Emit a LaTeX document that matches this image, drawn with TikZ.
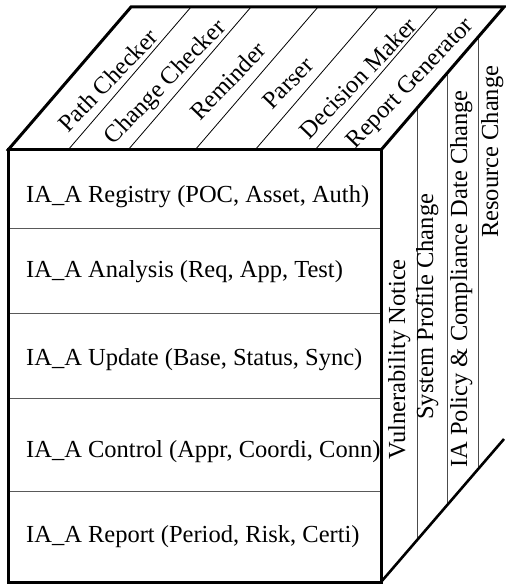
\documentclass[tikz,border=0pt]{standalone}
\usepackage{fontspec}
\setmainfont{Liberation Serif}
\begin{document}
\begin{tikzpicture}[x=1pt,y=-1pt,
  thickline/.style={line width=3pt, line join=miter, line cap=rect},
  divline/.style={line width=0.8pt, black},
  rowline/.style={line width=1pt, black!65},
  sideline/.style={line width=0.9pt, black!70},
  lbl/.style={inner sep=0pt, font=\fontsize{24.5}{29}\selectfont},
]
\useasboundingbox (0,0) rectangle (505,585);
% cube corners
\coordinate (ftl) at (8,150);
\coordinate (ftr) at (381,150);
\coordinate (fbr) at (381,582);
\coordinate (fbl) at (8,582);
\coordinate (btl) at (131,7);
\coordinate (btr) at (504,7);
\coordinate (bbr) at (504,439);
% row dividers
\foreach \y/\n in {228/a,313/b,398/c,491/d}{
  \coordinate (rl\n) at (8,\y);
  \coordinate (rr\n) at (381,\y);
  \draw[rowline] (rl\n) -- (rr\n);
}
% top dividers
\foreach \x/\n in {68/a,128/b,195/c,255/d,315/e}{
  \coordinate (tf\n) at (\x,150);
  \coordinate (tb\n) at (\x+123,7);
  \draw[divline] (tf\n) -- (tb\n);
}
% side dividers
\foreach \x/\n in {417/a,447/b,478/c}{
  \coordinate (st\n) at (\x,{150-(\x-381)*143/123});
  \coordinate (sb\n) at (\x,{582-(\x-381)*143/123});
  \draw[sideline] (st\n) -- (sb\n);
}
% outlines
\draw[thickline] (ftl) rectangle (fbr);
\draw[thickline] (ftl) -- (btl) -- (btr) -- (ftr);
\draw[line width=2.6pt] (fbr) -- (bbr);
% front texts
\node[lbl, anchor=base west] (t1) at (26,203) {IA\_A Registry (POC, Asset, Auth)};
\node[lbl, anchor=base west] (t2) at (26,277) {IA\_A Analysis (Req, App, Test)};
\node[lbl, anchor=base west] (t3) at (26,365) {IA\_A Update (Base, Status, Sync)};
\node[lbl, anchor=base west] (t4) at (26,457) {IA\_A Control (Appr, Coordi, Conn)};
\node[lbl, anchor=base west] (t5) at (26,542) {IA\_A Report (Period, Risk, Certi)};
% side texts
\node[lbl, anchor=base west, rotate=90] (s1) at (405,460) {Vulnerability Notice};
\node[lbl, anchor=base west, rotate=90] (s2) at (433,420) {System Profile Change};
\node[lbl, anchor=base west, rotate=90] (s3) at (467,468) {IA Policy \& Compliance Date Change};
\node[lbl, anchor=base west, rotate=90] (s4) at (498,238) {Resource Change};
% top texts
\node[lbl, rotate=46] (p1) at (108,80) {Path Checker};
\node[lbl, rotate=46] (p2) at (166,83) {Change Checker};
\node[lbl, rotate=46] (p3) at (228,81) {Reminder};
\node[lbl, rotate=46] (p4) at (288,83) {Parser};
\node[lbl, rotate=46] (p5) at (358,78) {Decision Maker};
\node[lbl, rotate=46] (p6) at (411,84) {Report Generator};
\end{tikzpicture}
\end{document}
